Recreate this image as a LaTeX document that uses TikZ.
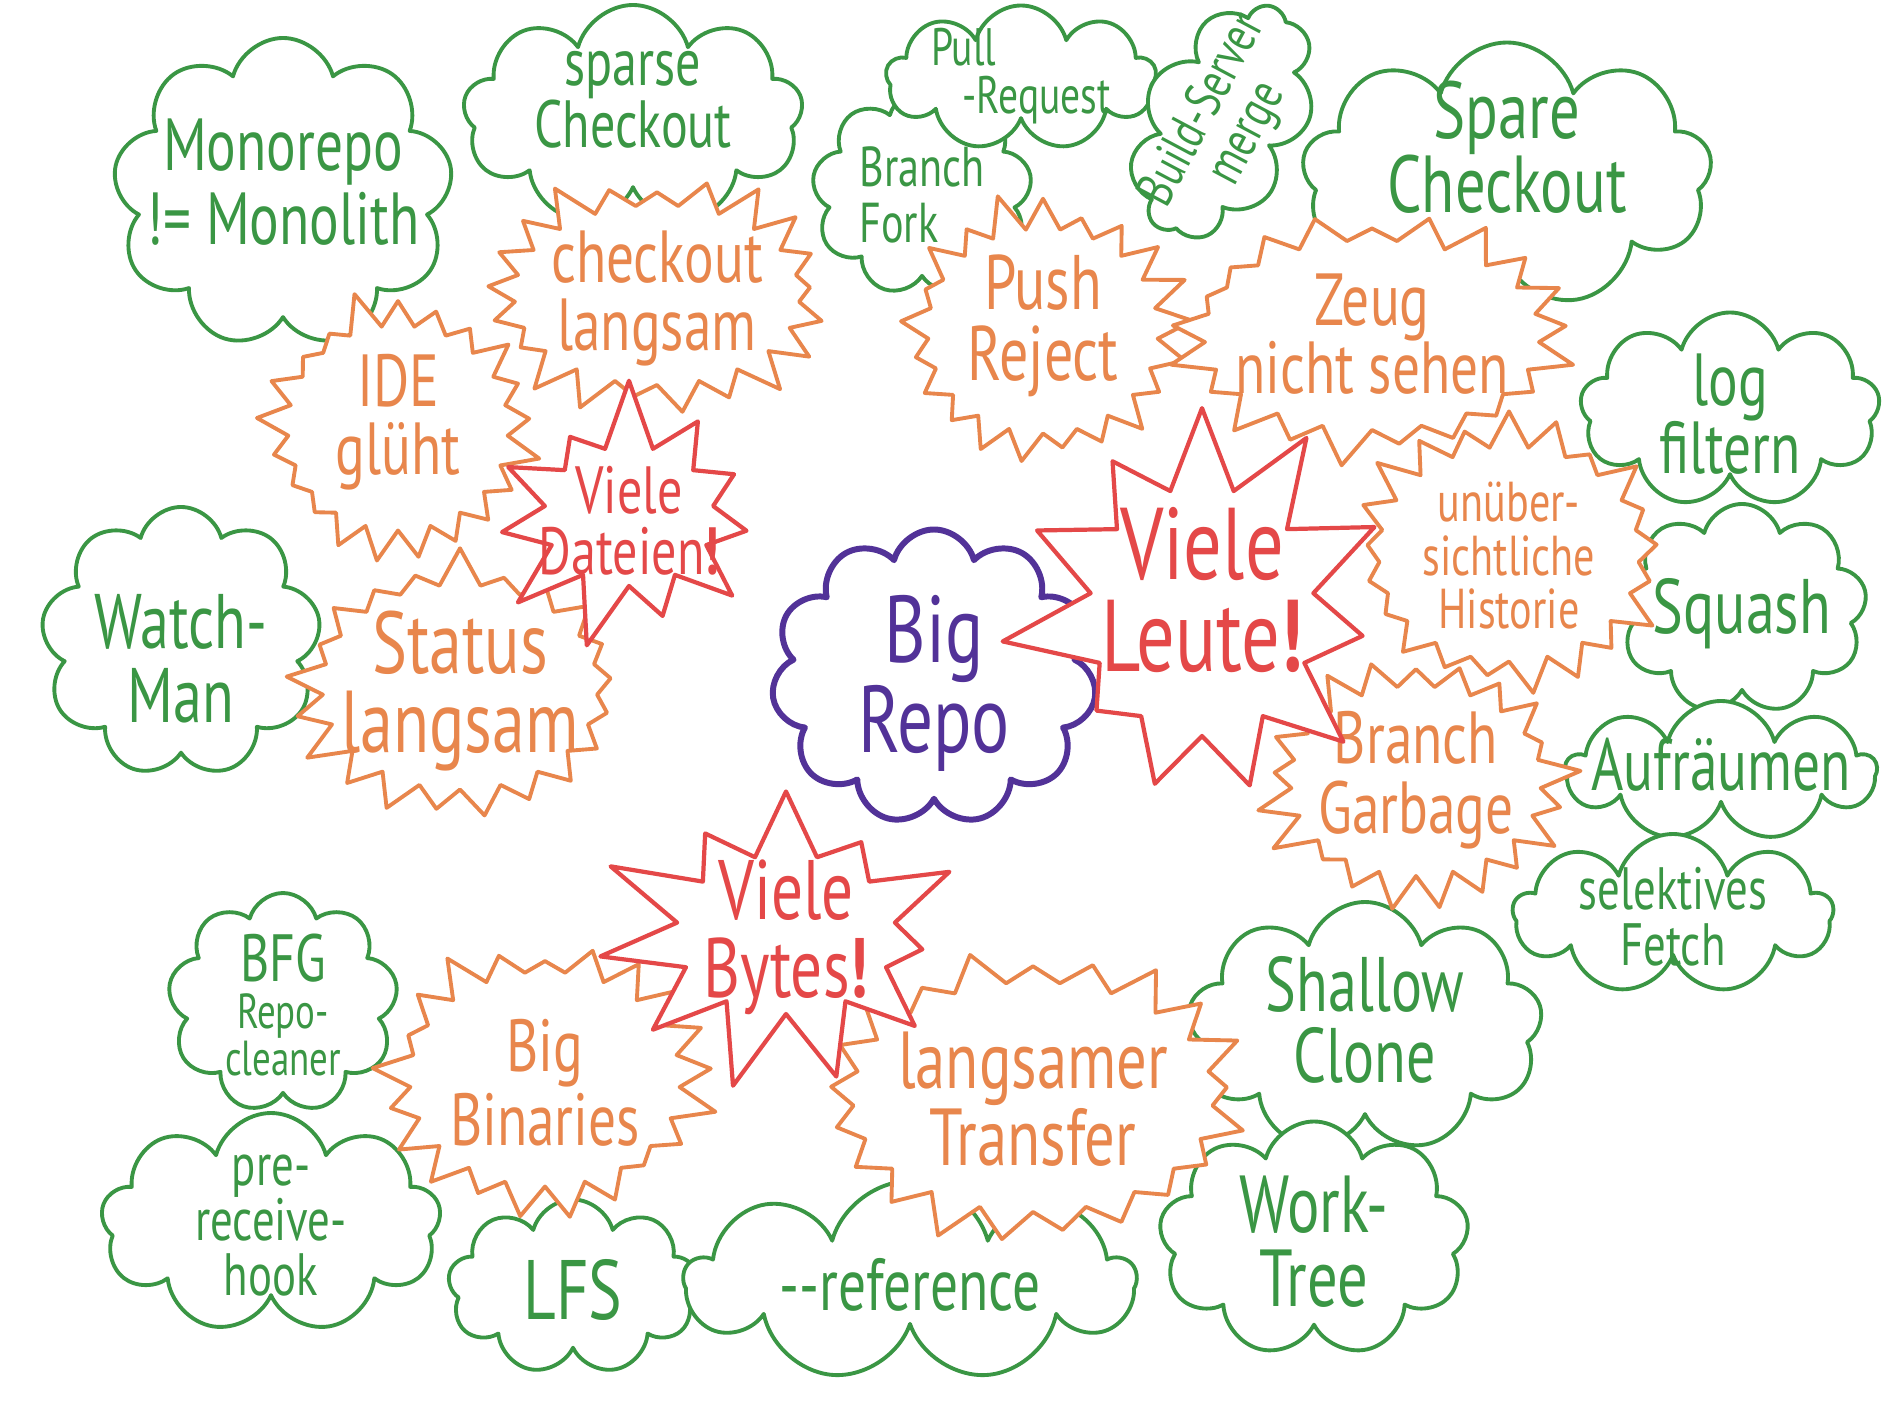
\documentclass[tikz,border=0pt]{standalone}
\usepackage{fontspec}
\setmainfont{PT Sans}[FakeStretch=0.75]
\usetikzlibrary{shapes.symbols}

\definecolor{gruen}{RGB}{58,150,68}
\definecolor{orangeton}{RGB}{232,134,76}
\definecolor{rotton}{RGB}{228,72,72}
\definecolor{lila}{RGB}{82,50,152}

% Schriftgroesse, optional mit Zeilenabstand als Faktor
\newcommand{\schrift}[2][1]{\fontsize{#2}{\fpeval{#1*#2}}\selectfont}
% Text ohne Ausdehnung, damit die Form nur von minimum width/height abhaengt
\newcommand{\beschrift}[2][\hfil]{\makebox[0pt]{\smash{\raisebox{-0.3em}{$\vcenter{\lineskiplimit=-\maxdimen\let\\\cr
  \halign{#1##\hfil\cr#2\crcr}}$}}}}
\newcommand{\versatz}[2]{\smash{\raisebox{#1}{#2}}}

\tikzset{
  groesse/.style 2 args={minimum width=#1cm, minimum height=#2cm},
  loesung/.style={cloud, cloud puffs=9, cloud ignores aspect, draw=gruen, text=gruen,
    fill=white, line width=1.1pt, inner sep=0pt},
  problem/.style={starburst, starburst points=21, starburst point height=0.4cm,
    draw=orangeton, text=orangeton, fill=white, line width=1.1pt, inner sep=0pt},
  ursache/.style={starburst, starburst points=11, starburst point height=0.95cm,
    draw=rotton, text=rotton, fill=white, line width=1.2pt, inner sep=0pt},
  thema/.style={cloud, cloud puffs=11, cloud ignores aspect, draw=lila, text=lila,
    fill=white, line width=1.7pt, inner sep=0pt},
}

\begin{document}
\begin{tikzpicture}[line join=round, line cap=round]
  \useasboundingbox (0,0) rectangle (18.9,14.17);
  % Loesungen
  \node[loesung, groesse={3.4}{3.1}, font={\schrift{21}}] (monorepo) at (2.83,12.24) {\versatz{0.15cm}{\beschrift{Monorepo\\!= Monolith}}};
  \node[loesung, groesse={3.4}{2.2}, font={\schrift[0.92]{19}}] (sparse) at (6.33,13.02) {\versatz{0.2cm}{\beschrift{sparse\\Checkout}}};
  \node[loesung, groesse={2.2}{2.05}, font={\schrift{16}}] (branchfork) at (9.22,12.24) {\beschrift[\relax]{Branch\\Fork}};
  \node[loesung, groesse={2.7}{1.45}, font={\schrift[0.9]{15}}] (pullrequest) at (10.21,13.39) {\versatz{0.05cm}{\beschrift[\relax]{Pull\\\hspace{0.6em}-Request}}};
  \node[loesung, groesse={2.5}{1.6}, rotate=62, font={\schrift[0.95]{15}}] (buildserver) at (12.23,12.96) {\beschrift{Build-Server\\merge}};
  \node[loesung, groesse={4.1}{2.65}, font={\schrift[0.92]{23}}] (spare) at (15.07,12.42) {\versatz{0.3cm}{\beschrift{Spare\\Checkout}}};
  \node[loesung, groesse={3.0}{1.95}, font={\schrift[0.92]{21}}] (logfiltern) at (17.30,10.07) {\beschrift{log\\filtern}};
  \node[loesung, groesse={2.5}{2.1}, font={\schrift{22}}] (squash) at (17.42,8.08) {\beschrift{Squash}};
  \node[loesung, groesse={3.1}{1.4}, font={\schrift{21}}] (aufraeumen) at (17.21,6.46) {\versatz{0.1cm}{\beschrift{Aufräumen}}};
  \node[loesung, groesse={3.2}{1.6}, font={\schrift[0.95]{17}}] (fetch) at (16.73,5.03) {\beschrift{selektives\\Fetch}};
  \node[loesung, groesse={2.8}{2.7}, font={\schrift[0.95]{22}}] (watchman) at (1.81,7.75) {\versatz{-0.12cm}{\beschrift{Watch-\\Man}}};
  \node[loesung, groesse={2.3}{2.2}, font={\schrift[0.95]{14}}] (bfg) at (2.83,4.14) {\beschrift{{\schrift{19}BFG}\\Repo-\\cleaner}};
  \node[loesung, groesse={3.4}{2.2}, font={\schrift[0.92]{17}}] (hook) at (2.71,1.94) {\beschrift{pre-\\receive-\\hook}};
  \node[loesung, groesse={2.5}{1.75}, font={\schrift{24}}] (lfs) at (5.73,1.30) {\beschrift{LFS}};
  \node[loesung, groesse={4.5}{2.0}, font={\schrift{21}}] (reference) at (9.10,1.36) {\beschrift{-{}-reference}};
  \node[loesung, groesse={3.55}{2.5}, font={\schrift[0.92]{22}}] (shallow) at (13.65,3.90) {\versatz{0.12cm}{\beschrift{Shallow\\Clone}}};
  \node[loesung, groesse={3.1}{2.35}, font={\schrift[0.92]{23}}] (worktree) at (13.14,1.78) {\beschrift{Work-\\Tree}};
  % Probleme
  \node[problem, groesse={3.65}{2.6}, random starburst=3, font={\schrift[0.92]{21}}] (checkout) at (6.57,11.22) {\beschrift{checkout\\langsam}};
  \node[problem, groesse={3.0}{2.85}, random starburst=5, font={\schrift[0.92]{21}}] (ide) at (3.98,9.89) {\versatz{0.1cm}{\beschrift{IDE\\glüht}}};
  \node[problem, groesse={3.55}{2.85}, random starburst=7, font={\schrift[0.9]{25}}] (status) at (4.60,7.30) {\beschrift{Status\\langsam}};
  \node[problem, groesse={3.1}{2.85}, random starburst=11, font={\schrift[0.92]{22}}] (push) at (10.43,10.86) {\versatz{0.1cm}{\beschrift{Push\\Reject}}};
  \node[problem, groesse={4.15}{2.7}, random starburst=13, font={\schrift[0.92]{21}}] (zeug) at (13.72,10.82) {\versatz{0.05cm}{\beschrift{Zeug\\nicht sehen}}};
  \node[problem, groesse={3.4}{2.95}, random starburst=17, font={\schrift[0.95]{16}}] (historie) at (15.09,8.63) {\beschrift{unüber-\\sichtliche\\Historie}};
  \node[problem, groesse={3.3}{2.7}, random starburst=19, font={\schrift[0.95]{21}}] (garbage) at (14.16,6.36) {\versatz{0.05cm}{\beschrift{Branch\\Garbage}}};
  \node[problem, groesse={3.5}{2.95}, random starburst=23, font={\schrift{21}}] (binaries) at (5.45,3.38) {\beschrift{Big\\Binaries}};
  \node[problem, groesse={4.4}{3.1}, random starburst=29, font={\schrift[0.95]{23}}] (transfer) at (10.33,3.20) {\beschrift{langsamer\\Transfer}};
  % Thema
  \node[thema, groesse={3.25}{2.95}, font={\schrift[0.95]{27}}] (bigrepo) at (9.34,7.40) {\beschrift{Big\\Repo}};
  % Ursachen
  \node[ursache, groesse={3.6}{3.3}, random starburst=31, font={\schrift[0.92]{19}}] (dateien) at (6.29,9.01) {\beschrift{Viele\\Dateien\textbf{!}}};
  \node[ursache, groesse={4.15}{4.4}, random starburst=37, font={\schrift[0.9]{29}}] (leute) at (12.02,8.06) {\versatz{0.3cm}{\beschrift{Viele\\Leute\textbf{!}}}};
  \node[ursache, groesse={4.1}{3.5}, random starburst=41, font={\schrift[0.92]{24}}] (bytes) at (7.86,4.83) {\beschrift{Viele\\Bytes\textbf{!}}};
\end{tikzpicture}
\end{document}
